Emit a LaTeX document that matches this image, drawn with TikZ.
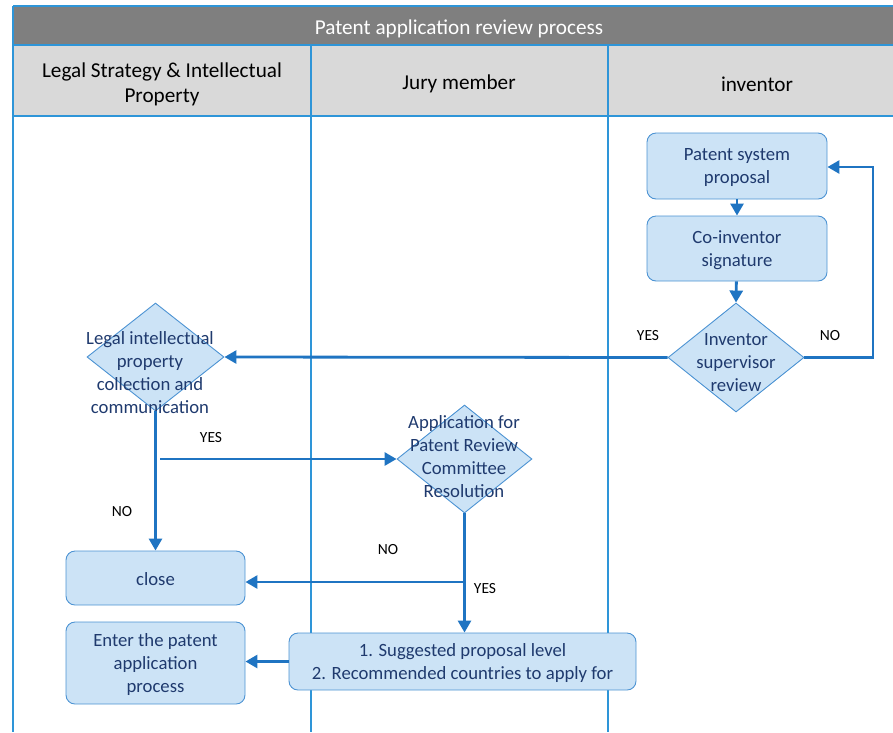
\documentclass[tikz,border=0pt]{standalone}
\usepackage{fontspec}
\setmainfont{Carlito}
\usetikzlibrary{arrows.meta,shapes.geometric}
\definecolor{lane}{HTML}{2E95D8}
\definecolor{flow}{HTML}{1F74C2}
\definecolor{boxfill}{HTML}{CCE3F6}
\definecolor{boxline}{HTML}{4C93D3}
\definecolor{boxtext}{HTML}{1F3A6E}
\definecolor{titlebar}{HTML}{7F7F7F}
\definecolor{headfill}{HTML}{D9D9D9}
\tikzset{
  lanerule/.style={draw=lane, line width=2.4pt},
  proc/.style={draw=boxline, line width=0.9pt, fill=boxfill, rounded corners=9pt, inner sep=0pt},
  decision/.style={diamond, draw=boxline, line width=0.9pt, fill=boxfill, inner sep=0pt},
  intext/.style={text=boxtext, align=center, inner sep=0pt, yshift=-1.5pt,
    font=\fontsize{18.7}{23}\selectfont},
  headtext/.style={align=center, inner sep=0pt, yshift=-2pt, font=\fontsize{21.2}{25}\selectfont},
  tag/.style={inner sep=0pt, yshift=-2pt, font=\fontsize{15.5}{17}\selectfont},
  flowline/.style={draw=flow, line width=2.8pt},
  flowarrow/.style={flowline, -{Triangle[width=13pt,length=12pt]}}
}
\begin{document}
\begin{tikzpicture}[x=1pt,y=-1pt]
  \useasboundingbox (0,0) rectangle (893,732);
  % title bar and lane headers
  \fill[titlebar] (13,6) rectangle (893,45);
  \fill[headfill] (13,45) rectangle (893,116);
  \node[headtext, text=white] (title) at (459,26.5) {Patent application review process};
  \node[headtext] (hlegal) at (162,82) {Legal Strategy \& Intellectual\\Property};
  \node[headtext] (hjury) at (459,82) {Jury member};
  \node[headtext] (hinv) at (757,82) {inventor};
  % lane grid
  \draw[lanerule] (13,6) -- (893,6);
  \draw[lanerule] (13,45) -- (893,45);
  \draw[lanerule] (13,116) -- (893,116);
  \draw[lanerule] (13,6) -- (13,732);
  \draw[lanerule] (311,45) -- (311,732);
  \draw[lanerule] (608,45) -- (608,732);

  % inventor lane
  \node[proc, minimum width=180pt, minimum height=66pt] (prop) at (737,166) {};
  \node[intext] (propt) at (prop) {Patent system\\proposal};
  \node[proc, minimum width=180pt, minimum height=65pt] (sign) at (737,248.5) {};
  \node[intext] (signt) at (sign) {Co-inventor\\signature};
  \node[decision, minimum width=136pt, minimum height=109pt] (insup) at (736,357.5) {};
  \node[intext] (insupt) at (736,361) {Inventor\\supervisor\\review};

  % legal lane
  \node[decision, minimum width=137pt, minimum height=108pt] (legal) at (155.5,357) {};
  \node[intext] (legalt) at (150,371) {Legal intellectual\\property\\collection and\\communication};
  \node[proc, minimum width=179pt, minimum height=54pt] (close) at (155.5,578) {};
  \node[intext] (closet) at (close) {close};
  \node[proc, minimum width=179pt, minimum height=82pt] (enter) at (155.5,663) {};
  \node[intext] (entert) at (enter) {Enter the patent\\application\\process};

  % jury lane
  \node[decision, minimum width=135pt, minimum height=108pt] (comm) at (464.5,459) {};
  \node[intext] (commt) at (464,455) {Application for\\Patent Review\\Committee\\Resolution};
  \node[proc, minimum width=347pt, minimum height=57pt] (level) at (462.5,661.5) {};
  \node[intext] (levelt) at (level) {1. Suggested proposal level\\2. Recommended countries to apply for};

  % connectors
  \coordinate (loopr) at (873,357.5);
  \coordinate (yesstart) at (160,459);
  \coordinate (nobranch) at (464.5,582);
  \draw[flowarrow] (prop) -- (sign);
  \draw[flowarrow] (sign) -- (insup.north);
  \draw[flowarrow] (insup.east) -- (loopr) |- (prop.east |- 0,167);
  \draw[flowarrow] (insup.west) -- (legal.east);
  \draw[flowarrow] (legal.south) -- (close.north);
  \draw[flowarrow] (yesstart) -- (comm.west);
  \draw[flowarrow] (comm.south) -- (level.north -| comm.south);
  \draw[flowarrow] (nobranch) -- (close.east |- nobranch);
  \draw[flowarrow] (level.west) -- (enter.east |- level.west);

  % branch labels
  \node[tag] (t1) at (648,334) {YES};
  \node[tag] (t2) at (830,334) {NO};
  \node[tag] (t3) at (211,436) {YES};
  \node[tag] (t4) at (122,510) {NO};
  \node[tag] (t5) at (388,548) {NO};
  \node[tag] (t6) at (485,587) {YES};
\end{tikzpicture}
\end{document}
